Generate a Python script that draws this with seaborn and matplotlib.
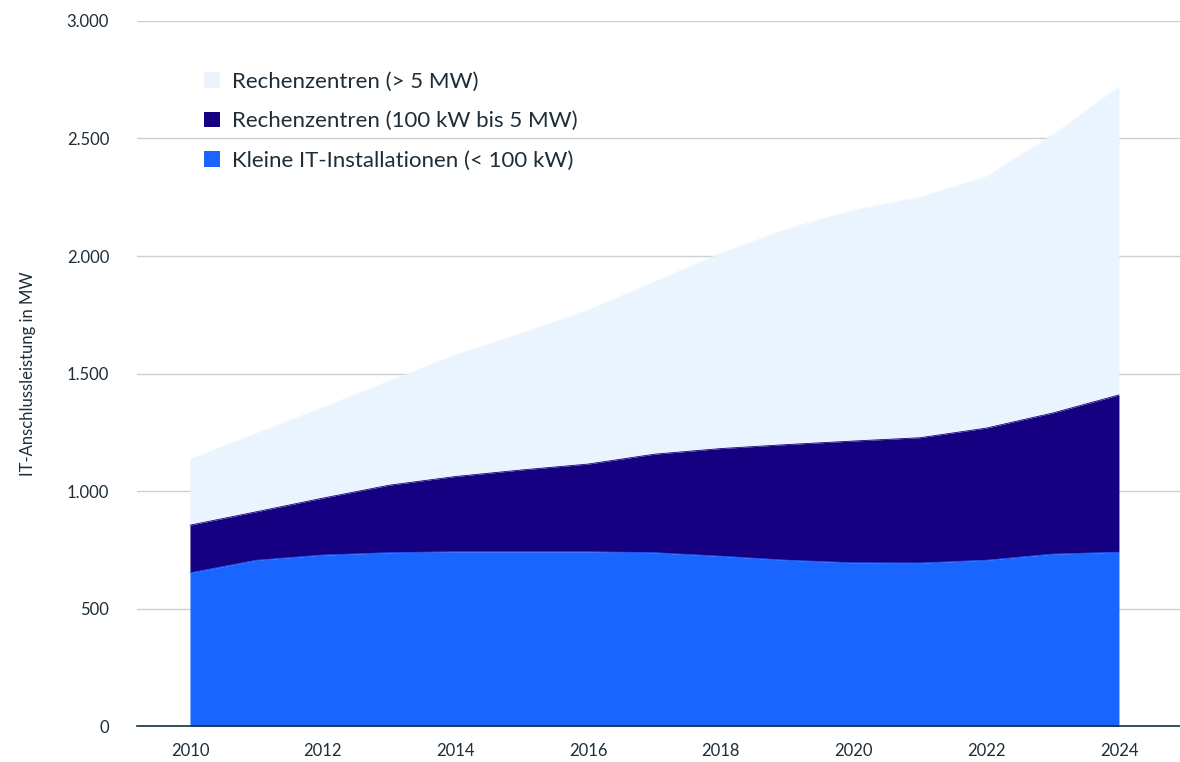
import numpy as np
import pandas as pd
import matplotlib
matplotlib.use("Agg")
import matplotlib.pyplot as plt
import seaborn as sns
from matplotlib.patches import Patch
from matplotlib.ticker import FuncFormatter

years = [2010, 2011, 2012, 2013, 2014, 2015, 2016, 2017, 2018, 2019, 2020, 2021, 2022, 2023, 2024]
small_it = [652, 706, 728, 738, 742, 742, 742, 738, 723, 706, 695, 694, 706, 732, 740]
rz_mid = [203, 206, 242, 287, 320, 348, 373, 419, 458, 492, 518, 533, 562, 600, 669]
rz_large = [280, 333, 385, 443, 517, 581, 655, 733, 831, 917, 982, 1023, 1069, 1183, 1310]

labels = ["Rechenzentren (> 5 MW)", "Rechenzentren (100 kW bis 5 MW)", "Kleine IT-Installationen (< 100 kW)"]
colors = ["#EAF4FE", "#140080", "#1A64FF"]
ylabel = "IT-Anschlussleistung in MW"

sns.set_theme(style="whitegrid")
plt.rcParams['font.family'] = ['Lato', 'DejaVu Sans']
text_color = "#1E2D37"

df = pd.DataFrame({"Jahr": years, "small": small_it, "mid": rz_mid, "large": rz_large})
df["c1"] = df["small"]
df["c2"] = df["c1"] + df["mid"]
df["c3"] = df["c2"] + df["large"]

fig = plt.figure(figsize=(11.8, 7.62), dpi=100)
ax = fig.add_axes([0.116, 0.047, 0.884, 0.9255])

ax.fill_between(df["Jahr"], df["c2"], df["c3"], color=colors[0], linewidth=0, zorder=2)
ax.fill_between(df["Jahr"], df["c1"], df["c2"], color=colors[1], linewidth=0, zorder=2)
ax.fill_between(df["Jahr"], 0, df["c1"], color=colors[2], linewidth=0, zorder=2)
for col, c in zip(["c3", "c2", "c1"], colors):
    sns.lineplot(data=df, x="Jahr", y=col, ax=ax, color=c, linewidth=0.6, zorder=3)

ax.set_xlim(2009.2, 2024.92)
ax.set_ylim(0, 3000)
ax.set_yticks([0, 500, 1000, 1500, 2000, 2500, 3000])
ax.yaxis.set_major_formatter(FuncFormatter(lambda v, p: f"{int(v):,}".replace(",", ".")))
ax.set_xticks(list(range(2010, 2025, 2)))
ax.grid(axis="y", color="#CFCFCF", linewidth=1)
ax.grid(axis="x", visible=False)
for s in ["top", "right", "left"]:
    ax.spines[s].set_visible(False)
ax.spines["bottom"].set_color("#0D3340")
ax.spines["bottom"].set_linewidth(1.2)
ax.spines["bottom"].set_zorder(4)
ax.tick_params(axis="both", length=0, labelsize=12, colors=text_color)
ax.tick_params(axis="y", pad=20)
ax.tick_params(axis="x", pad=12)
ax.set_xlabel("")
ax.set_ylabel(ylabel, fontsize=12, color=text_color, labelpad=22)

handles = [Patch(facecolor=c, edgecolor="none") for c in colors]
leg = ax.legend(handles, labels, loc="upper left", bbox_to_anchor=(0.0455, 0.956),
                frameon=False, fontsize=16, handlelength=0.7, handleheight=0.7,
                handletextpad=0.55, labelspacing=0.87, labelcolor=text_color)

fig.savefig("out.png", dpi=100)
